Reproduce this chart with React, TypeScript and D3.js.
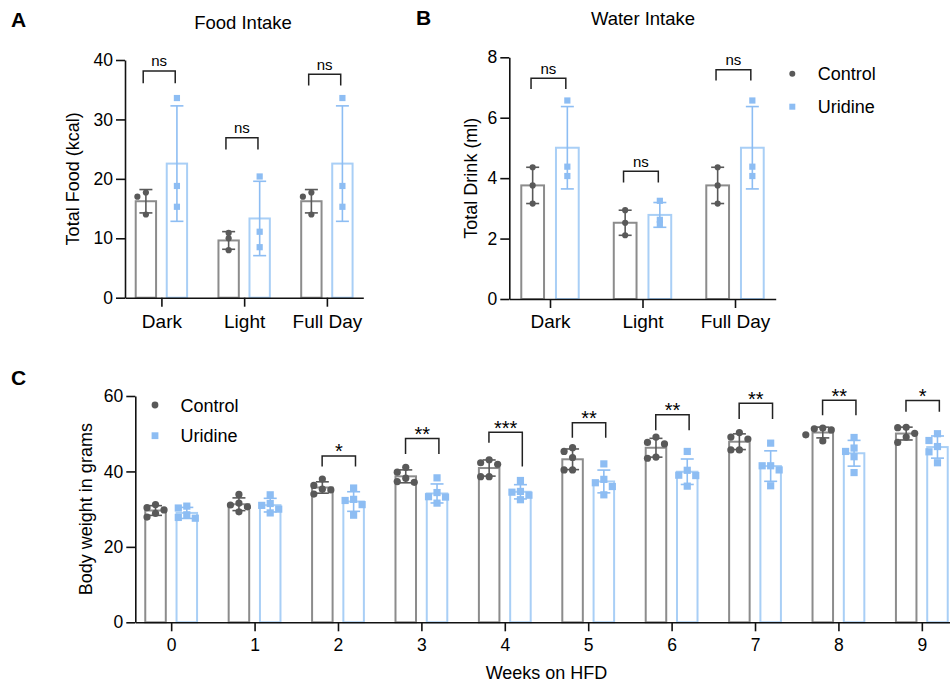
import React, { useEffect, useRef } from 'react';
import * as d3 from 'd3';

// ---- data ----
const intakeGroups = ['Dark', 'Light', 'Full Day'];

const foodControl = [[17.7, 17.0, 14.0], [10.9, 10.0, 8.0], [17.7, 17.0, 14.0]];
const foodUridine = [[33.6, 18.8, 15.3], [20.4, 11.1, 8.5], [33.6, 18.8, 15.3]];
const foodTicks = [0, 10, 20, 30, 40];
const foodSig = ['ns', 'ns', 'ns'];
const foodBracketTop = [38.15, 26.9, 37.6];
const foodBracketLeg = [36.1, 24.95, 35.7];

const waterControl = [[4.36, 3.76, 3.16], [2.94, 2.52, 2.11], [4.36, 3.76, 3.16]];
const waterUridine = [[6.57, 4.38, 4.07], [3.25, 2.62, 2.48], [6.57, 4.38, 4.07]];
const waterTicks = [0, 2, 4, 6, 8];
const waterSig = ['ns', 'ns', 'ns'];
const waterBracketTop = [7.31, 4.23, 7.59];
const waterBracketLeg = [6.95, 3.86, 7.23];

const weeks = ['0', '1', '2', '3', '4', '5', '6', '7', '8', '9'];
const weightControl = [
  [31.2, 30.4, 29.8, 28.9, 27.9],
  [33.9, 31.6, 31.1, 30.6, 29.3],
  [38.0, 36.3, 35.3, 35.1, 34.0],
  [41.1, 39.8, 38.2, 37.3, 37.1],
  [43.1, 42.3, 41.9, 38.6, 38.6],
  [46.3, 45.3, 43.7, 40.4, 40.4],
  [49.1, 47.7, 47.3, 43.8, 43.5],
  [50.3, 49.1, 48.6, 45.7, 45.7],
  [51.5, 51.3, 51.0, 49.7, 48.1],
  [51.7, 51.6, 50.1, 49.1, 47.7],
];
const weightUridine = [
  [30.8, 30.3, 28.5, 27.8, 27.6],
  [33.8, 31.5, 31.0, 30.0, 29.0],
  [35.6, 32.6, 32.3, 31.2, 28.4],
  [38.3, 34.4, 33.3, 33.2, 31.6],
  [37.6, 34.7, 34.5, 33.7, 32.5],
  [42.0, 37.9, 37.0, 36.0, 33.8],
  [45.3, 40.3, 39.0, 38.9, 36.1],
  [47.5, 41.5, 41.5, 40.4, 36.2],
  [49.0, 46.2, 45.3, 43.9, 39.7],
  [50.0, 48.2, 46.6, 45.2, 42.3],
];
const weightTicks = [0, 20, 40, 60];
const weightSig = ['', '', '*', '**', '***', '**', '**', '**', '**', '*'];
const weightBracketTop = [null, null, 44.1, 48.7, 50.4, 52.9, 55.0, 58.1, 58.9, 58.8];
const weightBracketLegL = [null, null, 41.3, 44.6, 47.6, 48.9, 50.9, 53.9, 54.9, 55.8];
const weightBracketLegR = [null, null, 41.3, 44.6, 41.3, 48.9, 50.9, 53.9, 54.9, 55.8];

const FONT = '"Liberation Sans", Arial, Helvetica, sans-serif';
const CTRL_BAR = '#8c8c8c';
const CTRL_DOT = '#595959';
const URI_BAR = '#a9cff6';
const URI_DOT = '#8dbdf3';

// simple swarm: place each point at the first free horizontal slot
function swarm(ys, minDist, step) {
  const order = ys.map((_, i) => i).sort((a, b) => ys[a] - ys[b]);
  const placed = [];
  const out = new Array(ys.length).fill(0);
  const cands = [0, -step, step, -2 * step, 2 * step];
  order.forEach(i => {
    const yy = ys[i];
    const dx = cands.find(c => placed.every(p => Math.hypot(p.x - c, p.y - yy) >= minDist)) ?? 0;
    placed.push({ x: dx, y: yy });
    out[i] = dx;
  });
  return out;
}

function drawPanel(svg, cfg) {
  const x = d3.scalePoint().domain(cfg.cats).range(cfg.xRange).padding(cfg.pad);
  const y = d3.scaleLinear().domain(cfg.yDomain).range(cfg.yRange);
  const step = x.step();
  const bw = step * 0.246;
  const off = step * 0.1875;
  const g = svg.append('g');

  const series = [
    { values: cfg.control, bar: CTRL_BAR, err: CTRL_DOT, dot: CTRL_DOT, shape: 'circle', dx: -off },
    { values: cfg.uridine, bar: URI_BAR, err: URI_DOT, dot: URI_DOT, shape: 'square', dx: off },
  ];

  series.forEach(s => {
    s.values.forEach((vals, i) => {
      const cx = x(cfg.cats[i]) + s.dx;
      const m = d3.mean(vals);
      const sd = d3.deviation(vals);
      g.append('rect')
        .attr('x', cx - bw / 2)
        .attr('y', y(m))
        .attr('width', bw)
        .attr('height', y(0) - y(m))
        .attr('fill', '#fff')
        .attr('stroke', s.bar)
        .attr('stroke-width', 2);

      const eg = g.append('g').attr('stroke', s.err).attr('stroke-width', 1.6);
      eg.append('line').attr('x1', cx).attr('x2', cx).attr('y1', y(m - sd)).attr('y2', y(m + sd));
      [m - sd, m + sd].forEach(v => {
        eg.append('line').attr('x1', cx - 6.5).attr('x2', cx + 6.5).attr('y1', y(v)).attr('y2', y(v));
      });

      const ys = vals.map(v => y(v));
      const jit = swarm(ys, cfg.collide, 8.5);
      ys.forEach((py, k) => {
        const px = cx + jit[k];
        if (s.shape === 'circle') {
          g.append('circle').attr('cx', px).attr('cy', py).attr('r', cfg.r).attr('fill', s.dot);
        } else {
          g.append('rect')
            .attr('x', px - cfg.r).attr('y', py - cfg.r)
            .attr('width', cfg.r * 2).attr('height', cfg.r * 2)
            .attr('fill', s.dot);
        }
      });
    });
  });

  // axes
  const yAxis = g.append('g')
    .attr('transform', `translate(${cfg.xRange[0]},0)`)
    .call(d3.axisLeft(y).tickValues(cfg.yTicks).tickSize(9).tickPadding(3).tickSizeOuter(0));
  const xAxis = g.append('g')
    .attr('transform', `translate(0,${y(0)})`)
    .call(d3.axisBottom(x).tickSize(9).tickPadding(cfg.xPad).tickSizeOuter(0));
  [yAxis, xAxis].forEach(a => {
    a.attr('font-family', FONT);
    a.selectAll('path, line').attr('stroke', '#111').attr('stroke-width', 1.6);
    a.selectAll('text').attr('fill', '#000');
  });
  yAxis.attr('font-size', 17.5);
  xAxis.attr('font-size', cfg.xFont);

  // significance brackets
  cfg.sig.forEach((label, i) => {
    if (!label || cfg.top[i] == null) return;
    const c = x(cfg.cats[i]);
    const x1 = c + cfg.bl * step;
    const x2 = c + cfg.br * step;
    const yt = y(cfg.top[i]);
    g.append('path')
      .attr('d', `M${x1},${y(cfg.legL[i])}V${yt}H${x2}V${y(cfg.legR[i])}`)
      .attr('fill', 'none')
      .attr('stroke', '#222')
      .attr('stroke-width', 1.5);
    const isNs = label === 'ns';
    g.append('text')
      .attr('x', (x1 + x2) / 2)
      .attr('y', isNs ? yt - 4.5 : yt + 2.5)
      .attr('text-anchor', 'middle')
      .attr('font-family', FONT)
      .attr('font-size', isNs ? 15 : 20)
      .text(label);
  });

  // y label
  g.append('text')
    .attr('transform', `translate(${cfg.yLabelX},${(cfg.yRange[0] + cfg.yRange[1]) / 2}) rotate(-90)`)
    .attr('text-anchor', 'middle')
    .attr('dy', '0.35em')
    .attr('font-family', FONT)
    .attr('font-size', 18)
    .text(cfg.yLabel);

  return { x, y };
}

function addText(svg, x, y, str, size, opts = {}) {
  svg.append('text')
    .attr('x', x)
    .attr('y', y)
    .attr('font-family', FONT)
    .attr('font-size', size)
    .attr('font-weight', opts.bold ? 'bold' : 'normal')
    .attr('text-anchor', opts.anchor || 'start')
    .text(str);
}

function addLegend(svg, x, y, gap, r) {
  svg.append('circle').attr('cx', x).attr('cy', y).attr('r', r).attr('fill', CTRL_DOT);
  svg.append('rect').attr('x', x - r).attr('y', y + gap - r).attr('width', r * 2).attr('height', r * 2).attr('fill', URI_DOT);
  addText(svg, x + 25.5, y + 6.5, 'Control', 18);
  addText(svg, x + 25.5, y + gap + 6.5, 'Uridine', 18);
}

const App = () => {
  const svgRef = useRef(null);

  useEffect(() => {
    const svg = d3.select(svgRef.current);
    svg.selectAll('*').remove();

    // Panel A
    drawPanel(svg, {
      cats: intakeGroups, xRange: [125, 363.3], pad: 0.44,
      yDomain: [0, 40], yRange: [297.7, 60], yTicks: foodTicks,
      control: foodControl, uridine: foodUridine,
      sig: foodSig, top: foodBracketTop, legL: foodBracketLeg, legR: foodBracketLeg,
      bl: -0.22, br: 0.167, r: 3.1, collide: 5, xPad: 8, xFont: 19,
      yLabel: 'Total Food (kcal)', yLabelX: 73,
    });
    addText(svg, 11, 26.5, 'A', 21, { bold: true });
    addText(svg, 243, 28.5, 'Food Intake', 18.5, { anchor: 'middle' });

    // Panel B
    drawPanel(svg, {
      cats: intakeGroups, xRange: [509.3, 775.7], pad: 0.44,
      yDomain: [0, 8], yRange: [299, 57.3], yTicks: waterTicks,
      control: waterControl, uridine: waterUridine,
      sig: waterSig, top: waterBracketTop, legL: waterBracketLeg, legR: waterBracketLeg,
      bl: -0.205, br: 0.171, r: 3.1, collide: 3, xPad: 7, xFont: 19,
      yLabel: 'Total Drink (ml)', yLabelX: 471,
    });
    addText(svg, 416, 25, 'B', 21, { bold: true });
    addText(svg, 643, 25, 'Water Intake', 18.5, { anchor: 'middle' });
    addLegend(svg, 792.3, 73.7, 33, 3);

    // Panel C
    drawPanel(svg, {
      cats: weeks, xRange: [135.3, 957.7], pad: 0.43,
      yDomain: [0, 60], yRange: [622.3, 396], yTicks: weightTicks,
      control: weightControl, uridine: weightUridine,
      sig: weightSig, top: weightBracketTop, legL: weightBracketLegL, legR: weightBracketLegR,
      bl: -0.19, br: 0.21, r: 3.6, collide: 7.5, xPad: 7, xFont: 17.5,
      yLabel: 'Body weight in grams', yLabelX: 85.5,
    });
    addText(svg, 11, 385, 'C', 21, { bold: true });
    addText(svg, 546.5, 679, 'Weeks on HFD', 18, { anchor: 'middle' });
    addLegend(svg, 155, 405, 30.7, 3.4);
  }, []);

  return (
    <svg
      ref={svgRef}
      width={950}
      height={685}
      style={{ position: 'absolute', left: 0, top: 0, background: '#fff' }}
    />
  );
};

export default App;
